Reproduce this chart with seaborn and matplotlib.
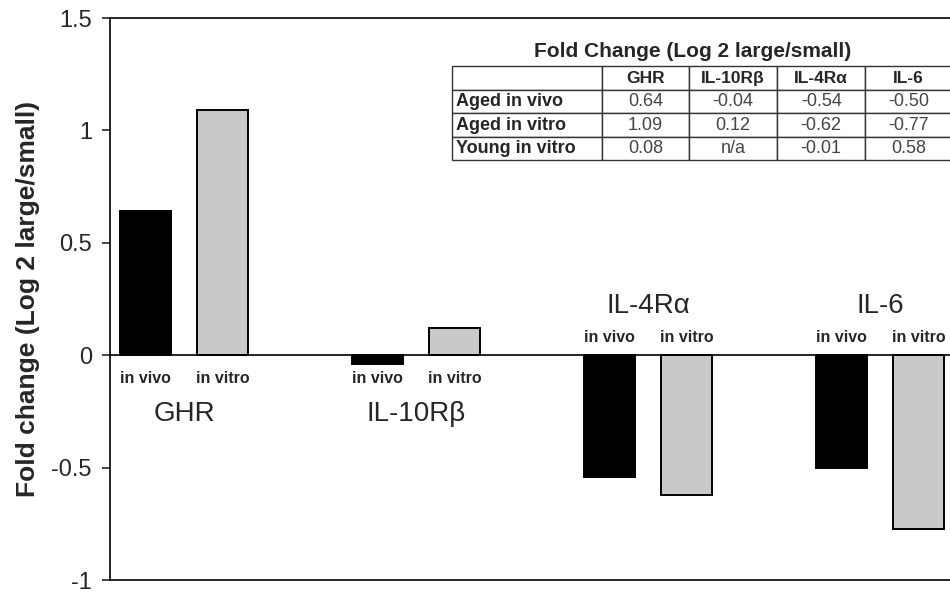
import numpy as np
import pandas as pd
import matplotlib
matplotlib.use("Agg")
import matplotlib.pyplot as plt
import seaborn as sns

# values
genes = ["GHR", "IL-10Rβ", "IL-4Rα", "IL-6"]
conditions = ["in vivo", "in vitro"]
in_vivo = [0.64, -0.04, -0.54, -0.50]
in_vitro = [1.09, 0.12, -0.62, -0.77]

# inset table
table_cols = ["", "GHR", "IL-10Rβ", "IL-4Rα", "IL-6"]
table_rows = ["Aged in vivo", "Aged in vitro", "Young in vitro"]
table_vals = [["0.64", "-0.04", "-0.54", "-0.50"],
              ["1.09", "0.12", "-0.62", "-0.77"],
              ["0.08", "n/a", "-0.01", "0.58"]]

df = pd.DataFrame({
    "gene": genes * 2,
    "condition": [conditions[0]] * 4 + [conditions[1]] * 4,
    "value": in_vivo + in_vitro,
})

sns.set_style("white")
plt.rcParams["font.family"] = ["Liberation Sans", "DejaVu Sans"]

fig = plt.figure(figsize=(9.5, 5.97), dpi=100)
ax = fig.add_axes([0.1158, 0.028, 0.8842, 0.9418])

sns.barplot(data=df, x="gene", y="value", hue="condition", order=genes,
            hue_order=conditions, palette=["black", "#c8c8c8"],
            edgecolor="black", linewidth=1.4, width=0.67, gap=0.345,
            legend=False, ax=ax)

ax.set_xlim(-0.319, 3.302)
ax.set_ylim(-1, 1.5)
ax.set_yticks([-1, -0.5, 0, 0.5, 1, 1.5])
ax.set_yticklabels(["-1", "-0.5", "0", "0.5", "1", "1.5"])
ax.set_xticks([])
ax.set_xlabel("")
ax.set_ylabel("Fold change (Log 2 large/small)", fontsize=19, fontweight="bold", labelpad=8)
ax.tick_params(axis="y", direction="out", length=6, width=1.2, labelsize=17, pad=7, left=True)
for s in ["left", "top", "bottom"]:
    ax.spines[s].set_color("black")
    ax.spines[s].set_linewidth(1.2)
ax.spines["right"].set_visible(False)
ax.axhline(0, color="black", lw=1.2, zorder=3)

# sub labels under/over bars and gene names
below = [True, True, False, False]
for i, g in enumerate(genes):
    for j, c in enumerate(conditions):
        bar = ax.patches[j * len(genes) + i]
        cx = bar.get_x() + bar.get_width() / 2
        y = -0.105 if below[i] else 0.08
        ax.text(cx, y, c, ha="center", va="center", fontsize=11.5, fontweight="bold")
    gy = -0.26 if below[i] else 0.22
    ax.text(i, gy, g, ha="center", va="center", fontsize=20)

# inset table
cell_text = [table_cols] + [[r] + v for r, v in zip(table_rows, table_vals)]
tbl = ax.table(cellText=cell_text, bbox=[0.407, 0.747, 0.595, 0.167],
               colWidths=[150, 86, 88, 88, 86], cellLoc="center")
tbl.auto_set_font_size(False)
for (r, c), cell in tbl.get_celld().items():
    cell.set_linewidth(1.0)
    cell.set_edgecolor("#333333")
    t = cell.get_text()
    t.set_fontsize(13)
    if r == 0:
        t.set_fontweight("bold")
        t.set_fontsize(12.5)
    elif c == 0:
        t.set_fontweight("bold")
    else:
        t.set_color("#444444")
    if c == 0:
        cell.set_text_props(ha="left")
        cell.PAD = 0.03
ax.text(0.694, 0.94, "Fold Change (Log 2 large/small)",
        transform=ax.transAxes, ha="center", va="center", fontsize=15, fontweight="bold")

fig.savefig("out.png", dpi=100)
